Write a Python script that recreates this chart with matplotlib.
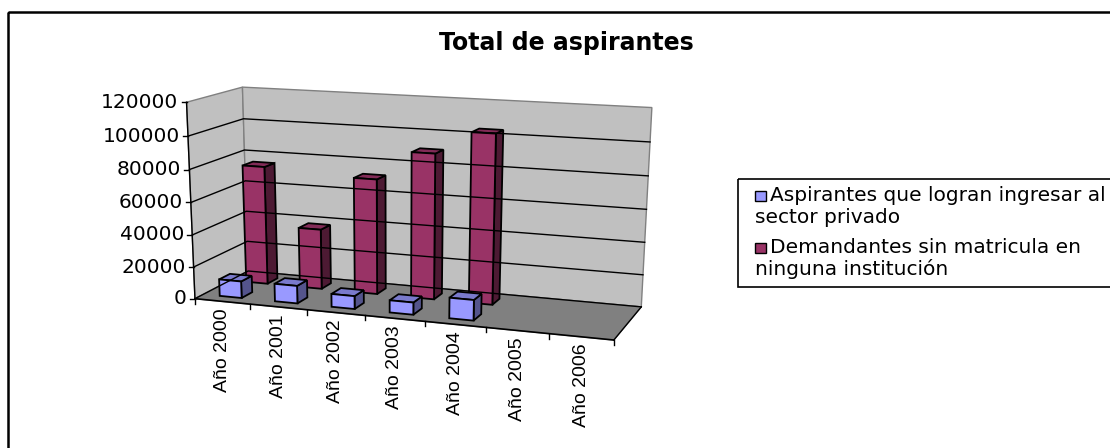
import numpy as np
import matplotlib.pyplot as plt
from matplotlib.patches import Polygon, Rectangle

plt.rcParams['font.family'] = ['Liberation Sans', 'DejaVu Sans']
wide = ['DejaVu Sans']  # the reference text is drawn horizontally stretched

# data
years = ["Año 2000", "Año 2001", "Año 2002", "Año 2003", "Año 2004", "Año 2005", "Año 2006"]
ingresan = [10500, 11000, 8000, 7500, 12500, 0, 0]
sin_matricula = [75000, 38000, 72000, 90000, 104000, 0, 0]
series_names = ["Aspirantes que logran ingresar al\nsector privado",
                "Demandantes sin matricula en\nninguna institución"]
y_ticks = [0, 20000, 40000, 60000, 80000, 100000, 120000]
y_max = 120000
title = "Total de aspirantes"

# face colours: front, top, side
blue = ("#9999FF", "#7A7ACC", "#54548C")
red = ("#993366", "#822B57", "#4D1A33")

# anchor points of the 3d box in the picture (world: category, depth, height 0..1)
n = len(years)
world = [(0, 0, 0), (0, 0, 1), (0, 1, 0), (0, 1, 1), (n, 1, 0), (n, 1, 1), (n, 0, 0)]
pix = [(195, 298), (186, 103), (247, 273), (244, 87), (641, 307), (652, 108), (613, 341)]
# category ticks along the front edge
for i, xp in zip(range(1, n), [252, 308, 364, 426, 487, 549]):
    world.append((i, 0, 0))
    pix.append((xp, 298 + (xp - 195) * 43 / 418))
# value ticks on front-left and back-right edges
for k, (yl, yr) in enumerate(zip([298, 266, 234, 202, 169, 137, 103],
                                 [308, 273, 242, 208, 176, 141, 108])):
    world.append((0, 0, k / 6))
    pix.append((195 - 9 * k / 6, yl))
    world.append((n, 1, k / 6))
    pix.append((641 + 11 * k / 6, yr))

pix = np.array(pix, float)
cen = pix.mean(axis=0)
scl = pix.std()
pn = (pix - cen) / scl
rows = []
for (X, Y, Z), (u, v) in zip(world, pn):
    p = [X, Y, Z, 1.0]
    rows.append(p + [0, 0, 0, 0] + [-u * c for c in p])
    rows.append([0, 0, 0, 0] + p + [-v * c for c in p])
_, _, vt = np.linalg.svd(np.array(rows, float))
P = vt[-1].reshape(3, 4)


def proj(u, v, w):
    h = P @ np.array([u, v, w, 1.0])
    return (h[0] / h[2] * scl + cen[0], h[1] / h[2] * scl + cen[1])


fig = plt.figure(figsize=(11.1, 4.48), dpi=100)
ax = fig.add_axes([0, 0, 1, 1])
ax.set_xlim(0, 1110)
ax.set_ylim(448, 0)
ax.axis('off')

# outer chart border
ax.add_patch(Rectangle((8, 12), 1120, 460, fill=False, edgecolor='black', lw=1.8))

# walls and floor
left_wall = [proj(0, 0, 0), proj(0, 0, 1), proj(0, 1, 1), proj(0, 1, 0)]
back_wall = [proj(0, 1, 0), proj(0, 1, 1), proj(n, 1, 1), proj(n, 1, 0)]
floor = [proj(0, 0, 0), proj(0, 1, 0), proj(n, 1, 0), proj(n, 0, 0)]
for poly, col in [(left_wall, '#C0C0C0'), (back_wall, '#C0C0C0'), (floor, '#808080')]:
    ax.add_patch(Polygon(poly, closed=True, facecolor=col, edgecolor='#808080', lw=1))

# gridlines
for t in y_ticks[:-1]:
    w = t / y_max
    pts = [proj(0, 0, w), proj(0, 1, w), proj(n, 1, w)]
    ax.plot([p[0] for p in pts], [p[1] for p in pts], color='black', lw=1)

# floor right edge
pts = [proj(n, 1, 0), proj(n, 0, 0)]
ax.plot([p[0] for p in pts], [p[1] for p in pts], color='black', lw=1)

# value axis
pts = [proj(0, 0, 0), proj(0, 0, 1)]
ax.plot([p[0] for p in pts], [p[1] for p in pts], color='black', lw=1)
for t in y_ticks:
    x0, y0 = proj(0, 0, t / y_max)
    ax.plot([x0 - 5, x0], [y0, y0], color='black', lw=1)
    ax.text(x0 - 8, y0, f"{t}", ha='right', va='center', fontsize=14.5, family=wide)

# category axis
pts = [proj(0, 0, 0), proj(n, 0, 0)]
ax.plot([p[0] for p in pts], [p[1] for p in pts], color='black', lw=1.2)
for i in range(n + 1):
    x0, y0 = proj(i, 0, 0)
    ax.plot([x0, x0], [y0, y0 + 5], color='black', lw=1)
for i, lab in enumerate(years):
    x0, y0 = proj(i + 0.5, 0, 0)
    ax.text(x0, y0 + 7, lab, rotation=90, ha='center', va='top', fontsize=14)


def draw_bar(u0, u1, v0, v1, h, cols):
    front = [proj(u0, v0, 0), proj(u1, v0, 0), proj(u1, v0, h), proj(u0, v0, h)]
    side = [proj(u1, v0, 0), proj(u1, v1, 0), proj(u1, v1, h), proj(u1, v0, h)]
    top = [proj(u0, v0, h), proj(u1, v0, h), proj(u1, v1, h), proj(u0, v1, h)]
    for poly, col in [(side, cols[2]), (top, cols[1]), (front, cols[0])]:
        ax.add_patch(Polygon(poly, closed=True, facecolor=col, edgecolor='black',
                             lw=1.3, joinstyle='miter'))


# back row first, then the front row
for s, (vals, cols) in reversed(list(enumerate([(ingresan, blue), (sin_matricula, red)]))):
    v0 = 0.15 + 0.5 * s
    for i, val in enumerate(vals):
        if val > 0:
            draw_bar(i + 0.3, i + 0.7, v0, v0 + 0.2, val / y_max, cols)

# title
ax.text(566, 50, title, ha='center', va='baseline', fontsize=17, fontweight='bold',
        family=wide)

# legend
ax.add_patch(Rectangle((738, 179), 400, 108, fill=False, edgecolor='black', lw=1.2))
for name, cols, yb in zip(series_names, [blue, red], [201, 253]):
    ax.add_patch(Rectangle((755, yb - 10), 11, 10, facecolor=cols[0], edgecolor='black', lw=1))
    first, second = name.split("\n")
    ax.text(770, yb, first, ha='left', va='baseline', fontsize=14.5, family=wide)
    ax.text(755, yb + 22, second, ha='left', va='baseline', fontsize=14.5, family=wide)

fig.savefig("out.png", dpi=100)
